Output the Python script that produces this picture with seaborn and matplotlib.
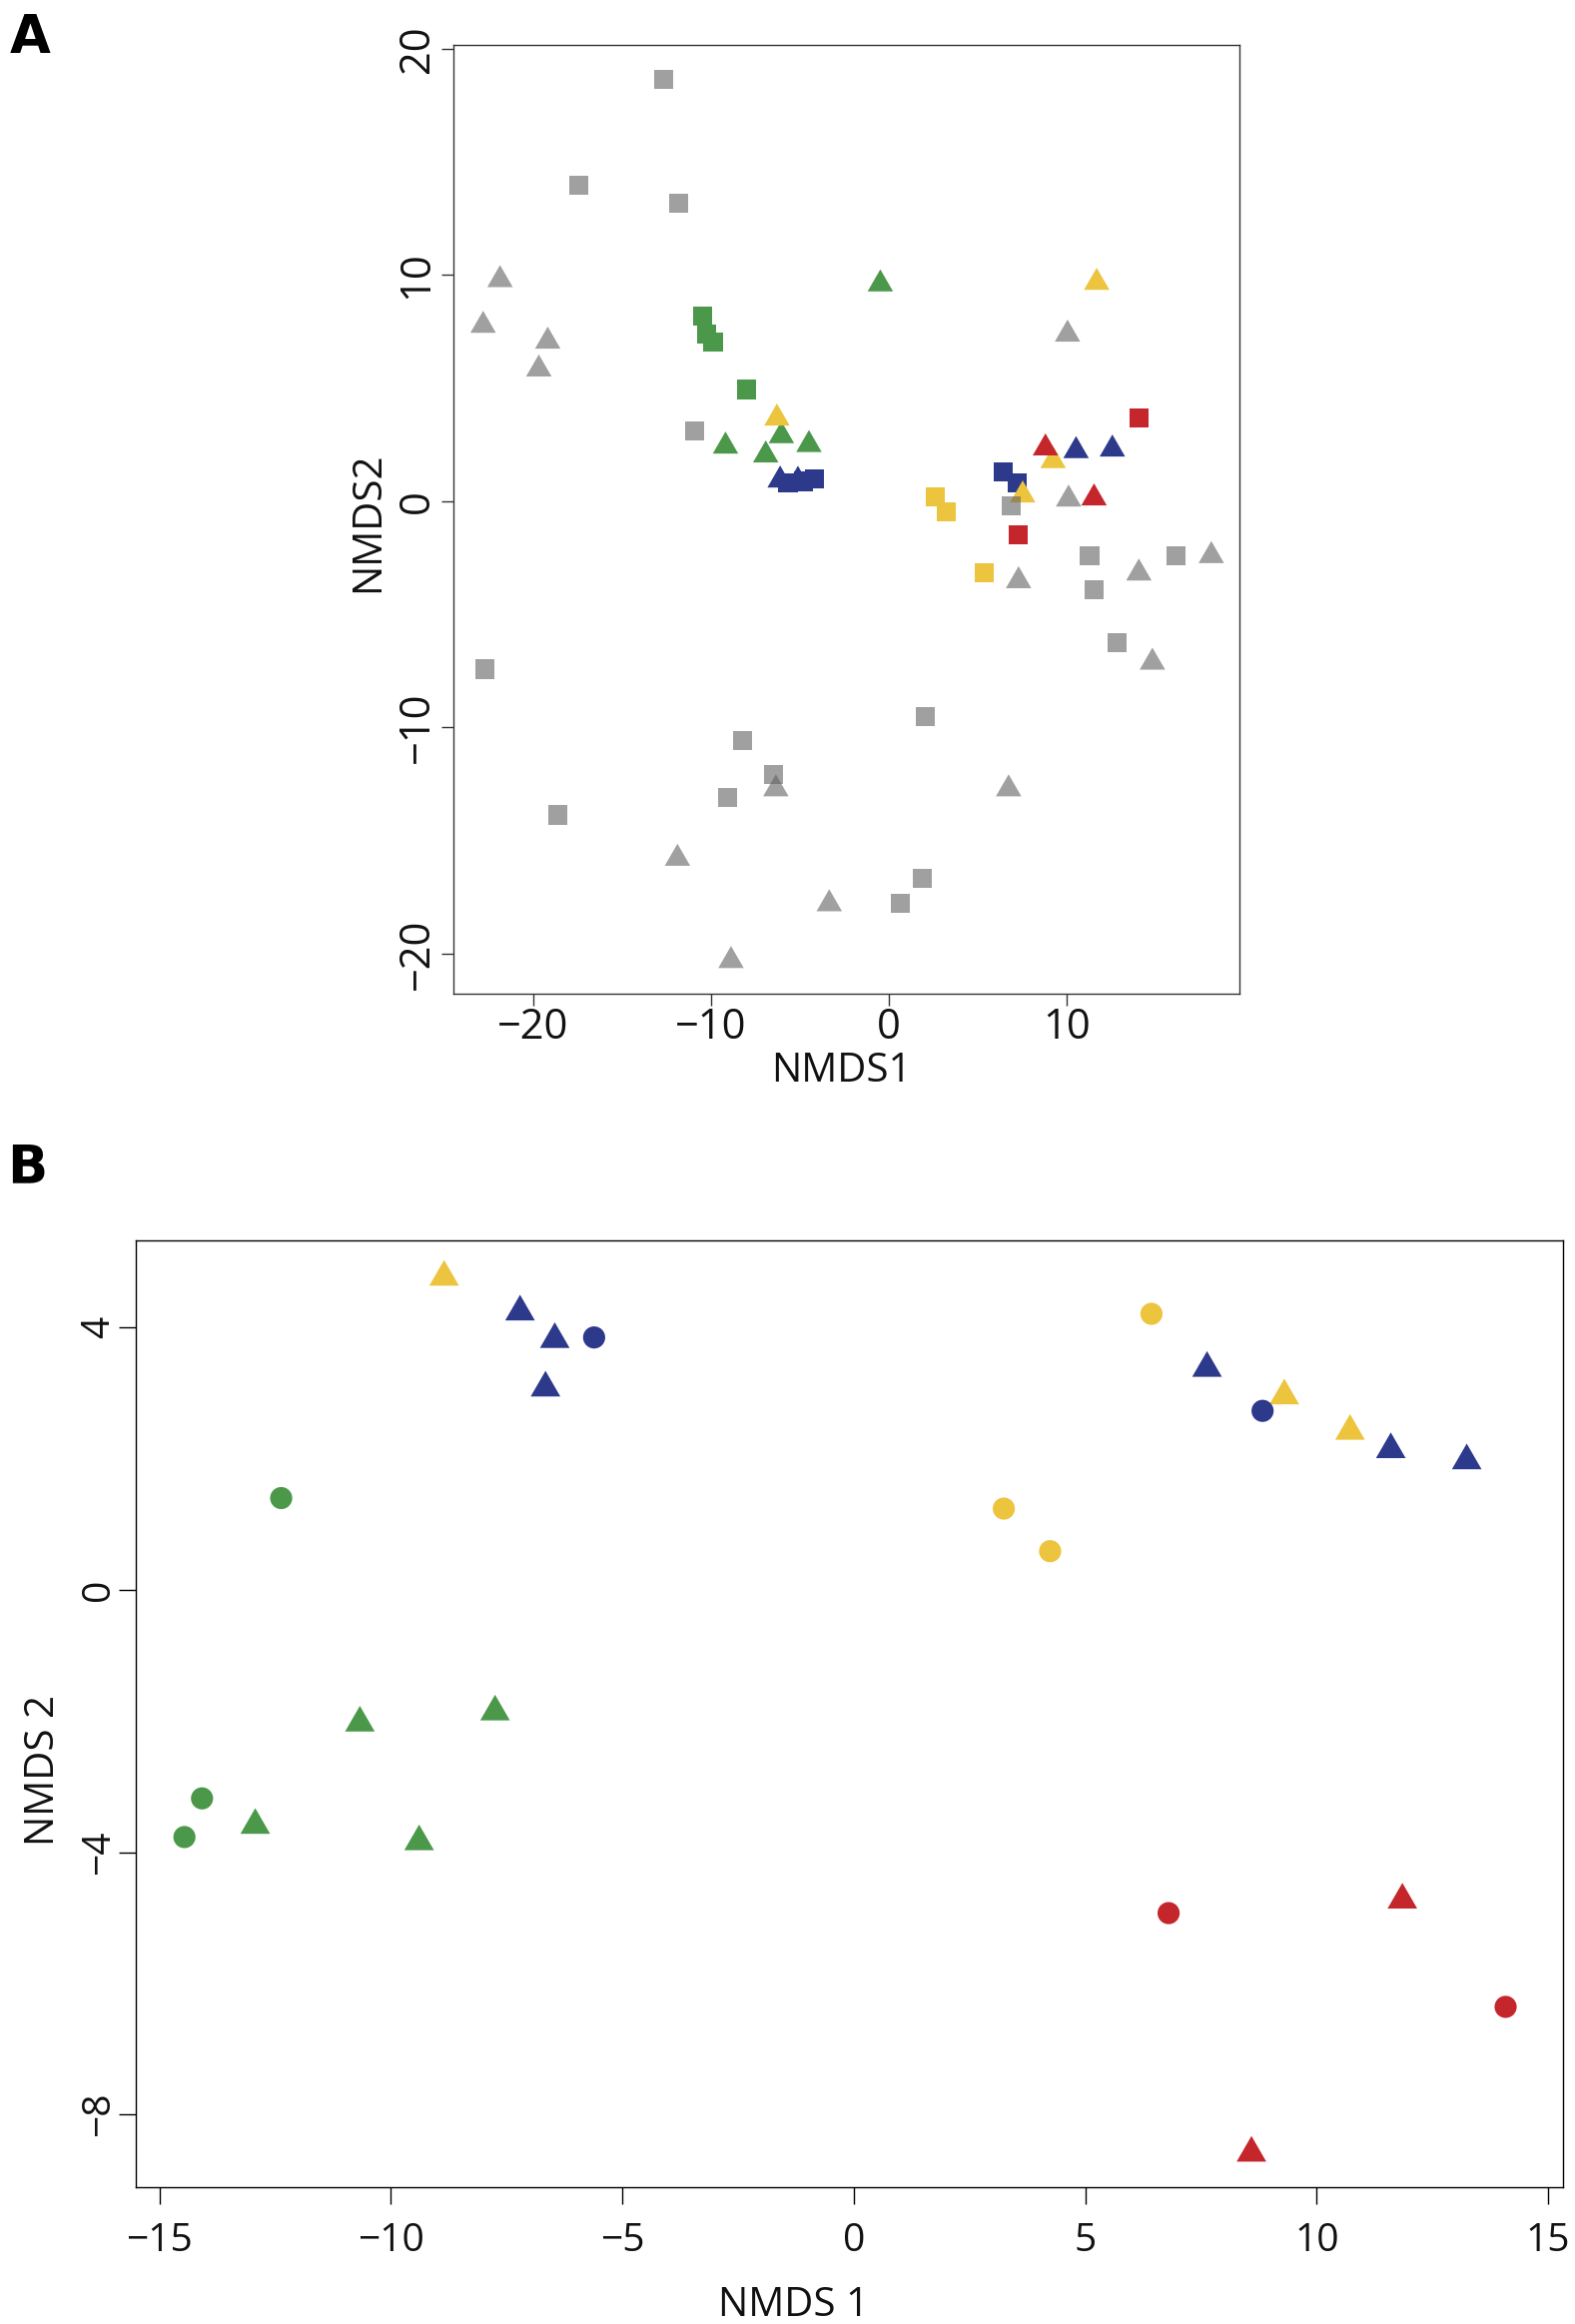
import matplotlib
matplotlib.use("Agg")
import matplotlib.pyplot as plt
import seaborn as sns
import pandas as pd

# ---------------- Panel A data (NMDS1, NMDS2) ----------------
a_gray_sq_x = [-12.67, -17.42, -11.84, -10.94, 6.87, 11.27, 16.13, 11.50, 12.82, 2.06, -8.23, -22.73, -6.50, -9.05, -18.60, 1.85, 0.63]
a_gray_sq_y = [18.64, 13.96, 13.18, 3.09, -0.20, -2.43, -2.43, -3.90, -6.27, -9.51, -10.59, -7.42, -12.07, -13.09, -13.87, -16.67, -17.77]
a_gray_tr_x = [-21.86, -22.81, -19.18, -19.68, 10.03, 10.09, 18.11, 14.04, 7.28, 14.80, -6.36, 6.72, -11.89, -3.36, -8.88]
a_gray_tr_y = [9.79, 7.77, 7.07, 5.84, 7.38, 0.09, -2.41, -3.18, -3.52, -7.12, -12.72, -12.72, -15.79, -17.80, -20.31]
a_green_sq_x = [-10.49, -10.24, -9.89, -8.03]
a_green_sq_y = [8.19, 7.38, 7.03, 4.94]
a_green_tr_x = [-0.49, -9.19, -6.05, -4.50, -6.93]
a_green_tr_y = [9.60, 2.43, 2.89, 2.50, 2.04]
a_yellow_sq_x = [2.62, 3.24, 5.37]
a_yellow_sq_y = [0.19, -0.47, -3.16]
a_yellow_tr_x = [-6.30, 11.67, 9.22, 7.51]
a_yellow_tr_y = [3.67, 9.67, 1.79, 0.27]
a_blue_sq_x = [-5.68, -4.80, -4.18, 6.40, 7.22]
a_blue_sq_y = [0.80, 0.88, 0.97, 1.30, 0.83]
a_blue_tr_x = [-6.12, -5.12, 10.51, 12.55]
a_blue_tr_y = [0.93, 0.92, 2.23, 2.30]
a_red_sq_x = [14.04, 7.25]
a_red_sq_y = [3.67, -1.48]
a_red_tr_x = [8.79, 11.52]
a_red_tr_y = [2.35, 0.14]

# ---------------- Panel B data (NMDS 1, NMDS 2) ----------------
b_green_ci_x = [-12.37, -14.08, -14.46]
b_green_ci_y = [1.40, -3.18, -3.77]
b_green_tr_x = [-7.75, -10.67, -12.93, -9.39]
b_green_tr_y = [-1.86, -2.03, -3.59, -3.84]
b_yellow_tr_x = [-8.85, 9.30, 10.72]
b_yellow_tr_y = [4.77, 2.96, 2.42]
b_yellow_ci_x = [6.43, 3.24, 4.24]
b_yellow_ci_y = [4.21, 1.24, 0.59]
b_blue_tr_x = [-7.21, -6.46, -6.66, 7.63, 11.60, 13.24]
b_blue_tr_y = [4.24, 3.82, 3.08, 3.38, 2.14, 1.97]
b_blue_ci_x = [-5.61, 8.83]
b_blue_ci_y = [3.85, 2.73]
b_red_ci_x = [6.80, 14.08]
b_red_ci_y = [-4.93, -6.36]
b_red_tr_x = [11.85, 8.59]
b_red_tr_y = [-4.73, -8.59]

# ticks / labels
a_xticks = [-20, -10, 0, 10]
a_yticks = [-20, -10, 0, 10, 20]
b_xticks = [-15, -10, -5, 0, 5, 10, 15]
b_yticks = [-8, -4, 0, 4]
a_xlabel, a_ylabel = "NMDS1", "NMDS2"
b_xlabel, b_ylabel = "NMDS 1", "NMDS 2"


def lab(v):
    return str(v).replace("-", "\u2212")


def frame(parts):
    rows = []
    for xs, ys, g, sh in parts:
        for x, y in zip(xs, ys):
            rows.append({"x": x, "y": y, "group": g, "shape": sh})
    return pd.DataFrame(rows)


dfA_gray = frame([(a_gray_sq_x, a_gray_sq_y, "gray", "square"),
                  (a_gray_tr_x, a_gray_tr_y, "gray", "triangle")])
dfA_col = frame([(a_green_sq_x, a_green_sq_y, "green", "square"),
                 (a_green_tr_x, a_green_tr_y, "green", "triangle"),
                 (a_blue_sq_x, a_blue_sq_y, "blue", "square"),
                 (a_yellow_sq_x, a_yellow_sq_y, "yellow", "square"),
                 (a_yellow_tr_x, a_yellow_tr_y, "yellow", "triangle"),
                 (a_blue_tr_x, a_blue_tr_y, "blue", "triangle"),
                 (a_red_sq_x, a_red_sq_y, "red", "square"),
                 (a_red_tr_x, a_red_tr_y, "red", "triangle")])
dfB = frame([(b_green_ci_x, b_green_ci_y, "green", "circle"),
             (b_green_tr_x, b_green_tr_y, "green", "triangle"),
             (b_yellow_tr_x, b_yellow_tr_y, "yellow", "triangle"),
             (b_yellow_ci_x, b_yellow_ci_y, "yellow", "circle"),
             (b_blue_tr_x, b_blue_tr_y, "blue", "triangle"),
             (b_blue_ci_x, b_blue_ci_y, "blue", "circle"),
             (b_red_ci_x, b_red_ci_y, "red", "circle"),
             (b_red_tr_x, b_red_tr_y, "red", "triangle")])

colors = {"green": "#4c984a", "blue": "#2d398b", "yellow": "#ecc43e",
          "red": "#c4262c", "gray": "#616161"}

TRI = [(0.0, 0.57735), (-0.5, -0.288675), (0.5, -0.288675)]

sns.set_theme(style="ticks")
plt.rcParams["font.family"] = ["Open Sans", "DejaVu Sans"]

W, H = 1577, 2327
fig = plt.figure(figsize=(W / 100, H / 100), dpi=100)

# ---------------- Panel A ----------------
axA = fig.add_axes([454 / W, 1 - 995 / H, (1241 - 454) / W, (995 - 45) / H])
sns.scatterplot(data=dfA_col, x="x", y="y", hue="group", palette=colors,
                style="shape", markers={"square": "s", "triangle": TRI},
                size="shape", sizes={"square": 190, "triangle": 450},
                linewidth=0, legend=False, ax=axA, zorder=3)
sns.scatterplot(data=dfA_gray, x="x", y="y", hue="group", palette=colors,
                style="shape", markers={"square": "s", "triangle": TRI},
                size="shape", sizes={"square": 190, "triangle": 450},
                linewidth=0, alpha=0.6, legend=False, ax=axA, zorder=4)
axA.set_xlim(-24.48, 19.69)
axA.set_ylim(-21.77, 20.17)
axA.set_xticks(a_xticks, labels=[lab(v) for v in a_xticks])
axA.set_yticks(a_yticks, labels=[lab(v) for v in a_yticks], rotation=90, va="center")
axA.tick_params(axis="both", direction="out", length=8.6, width=1.0,
                color="#333333", labelsize=30, labelcolor="#111111")
axA.tick_params(axis="x", pad=1)
axA.tick_params(axis="y", pad=2.5)
for sp in axA.spines.values():
    sp.set_color("#333333")
    sp.set_linewidth(1.0)
axA.set_xlabel(a_xlabel, fontsize=29, color="#111111")
axA.set_ylabel(a_ylabel, fontsize=29, color="#111111")
axA.xaxis.set_label_coords(0.493, -0.061)
axA.yaxis.set_label_coords(-0.083, 0.497)

# ---------------- Panel B ----------------
axB = fig.add_axes([136 / W, 1 - 2190 / H, (1565 - 136) / W, (2190 - 1242) / H])
sns.scatterplot(data=dfB, x="x", y="y", hue="group", palette=colors,
                style="shape", markers={"circle": "o", "triangle": TRI},
                size="shape", sizes={"circle": 255, "triangle": 610},
                linewidth=0, legend=False, ax=axB, zorder=3)
axB.set_xlim(-15.51, 15.32)
axB.set_ylim(-9.11, 5.33)
axB.set_xticks(b_xticks, labels=[lab(v) for v in b_xticks])
axB.set_yticks(b_yticks, labels=[lab(v) for v in b_yticks], rotation=90, va="center")
axB.tick_params(axis="both", direction="out", length=12, width=1.0,
                color="black", labelsize=28, labelcolor="#111111")
axB.tick_params(axis="x", pad=13)
axB.tick_params(axis="y", pad=1)
for sp in axB.spines.values():
    sp.set_color("black")
    sp.set_linewidth(1.0)
axB.set_xlabel(b_xlabel, fontsize=29, color="#111111")
axB.set_ylabel(b_ylabel, fontsize=29, color="#111111")
axB.xaxis.set_label_coords(0.461, -0.1034)
axB.yaxis.set_label_coords(-0.0505, 0.44)

# panel letters
fig.text(10 / W, 1 - 12 / H, "A", fontsize=38, fontweight="bold",
         family="DejaVu Sans", ha="left", va="top", color="black")
fig.text(7 / W, 1 - 1143 / H, "B", fontsize=38, fontweight="bold",
         family="DejaVu Sans", ha="left", va="top", color="black")

fig.savefig("out.png", dpi=100, facecolor="white")
